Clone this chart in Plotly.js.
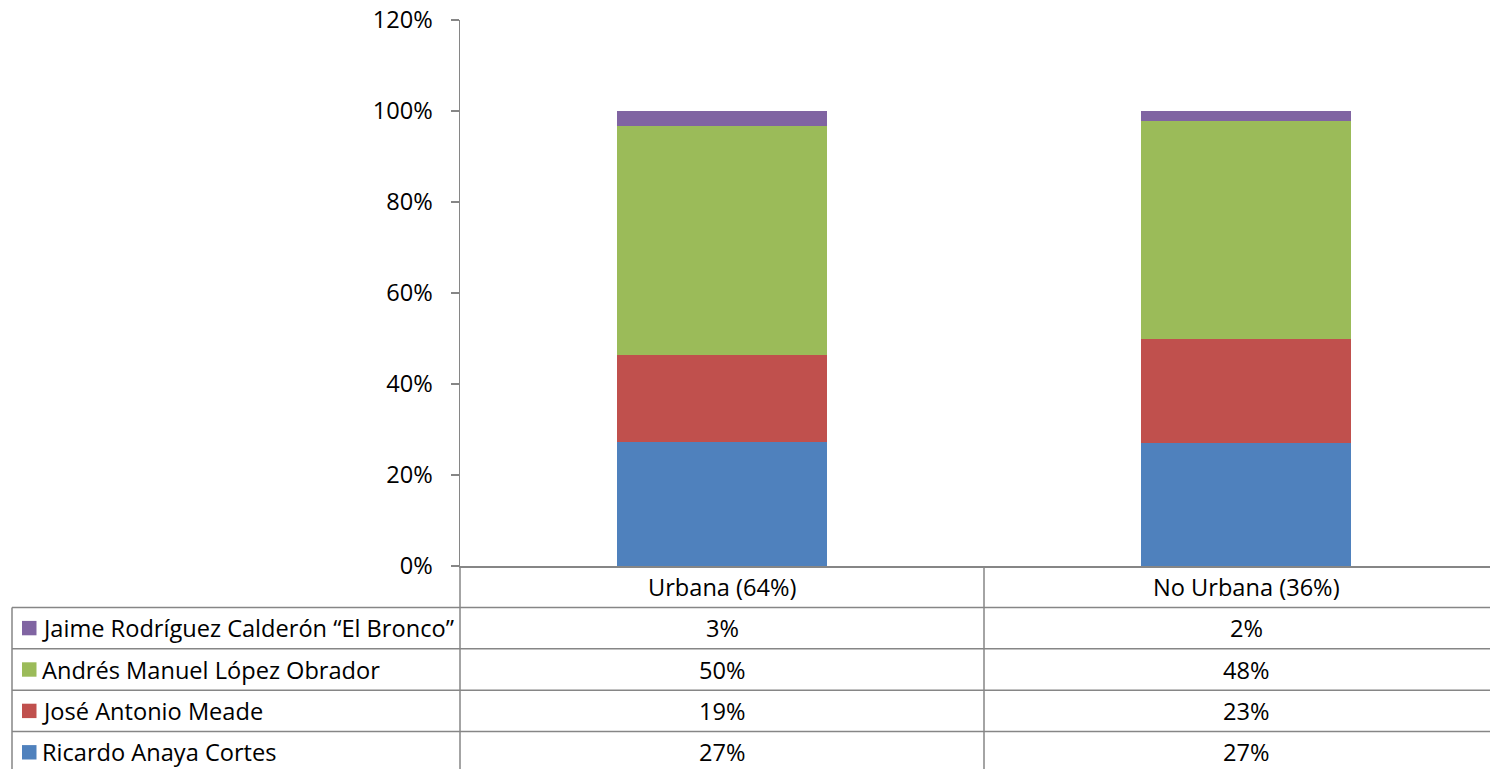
<!DOCTYPE html>
<html>
<head>
<meta charset="utf-8">
<script src="https://cdn.plot.ly/plotly-3.0.1.min.js"></script>
<style>
html,body{margin:0;padding:0;background:#fff;overflow:hidden;}
#chart{width:1490px;height:769px;}
</style>
</head>
<body>
<div id="chart"></div>
<script>
// ---- data ----
const categories = ["Urbana (64%)", "No Urbana (36%)"];
const seriesNames = ["Ricardo Anaya Cortes", "José Antonio Meade", "Andrés Manuel López Obrador", "Jaime Rodríguez Calderón “El Bronco”"];
const ricardo = [27.3, 27.0];
const meade = [19.0, 22.9];
const amlo = [50.3, 47.9];
const bronco = [3.4, 2.2];
const yTicks = [0, 20, 40, 60, 80, 100, 120];
const colors = ["#4F81BD", "#C0504D", "#9BBB59", "#8064A2"];

// ---- layout geometry ----
const W = 1490, H = 769;
const mL = 460, mR = 0, mT = 20, mB = 203;
const plotW = W - mL - mR, plotH = H - mT - mB;
const catW = 524;
const rowH = 41.4;
const gridColor = "#868686";
const FONT = "'Open Sans', sans-serif";
const fs = 23.6;

const seriesVals = [ricardo, meade, amlo, bronco];
const traces = seriesVals.map((vals, i) => ({
  type: "bar",
  name: seriesNames[i],
  x: categories,
  y: vals,
  width: 0.4,
  marker: {color: colors[i], line: {width: 0}},
  hoverinfo: "skip"
}));

function pxPaperX(px) { return (px - mL) / plotW; }

const shapes = [];
const annotations = [];
const nRows = seriesNames.length;
const tableBottom = -(rowH * (nRows + 1) + 10) / plotH;

// horizontal lines
for (let r = 1; r <= nRows + 1; r++) {
  const yp = -(rowH * r) / plotH;
  shapes.push({type: "line", xref: "paper", yref: "paper", x0: pxPaperX(12), x1: 1.05, y0: yp, y1: yp,
    line: {color: gridColor, width: 1.5}});
}
// vertical lines
shapes.push({type: "line", xref: "paper", yref: "paper", x0: pxPaperX(12), x1: pxPaperX(12), y0: -rowH / plotH, y1: tableBottom,
  line: {color: gridColor, width: 1.5}});
shapes.push({type: "line", xref: "paper", yref: "paper", x0: 0, x1: 0, y0: 0, y1: tableBottom,
  line: {color: gridColor, width: 1.5}});
for (let c = 0; c < categories.length; c++) {
  shapes.push({type: "line", xref: "x", yref: "paper", x0: c + 0.5, x1: c + 0.5, y0: 0, y1: tableBottom,
    line: {color: gridColor, width: 1.5}});
}

// header labels
categories.forEach((c, i) => {
  annotations.push({xref: "x", yref: "paper", x: i, y: -(rowH * 0.5) / plotH, text: c, showarrow: false,
    xanchor: "center", yanchor: "middle", font: {family: FONT, size: fs, color: "#000"}});
});

// rows: top to bottom = reverse of stack order
for (let r = 0; r < nRows; r++) {
  const si = nRows - 1 - r;
  const yc = -(rowH * (r + 1.5)) / plotH;
  annotations.push({xref: "paper", yref: "paper", x: pxPaperX(40), y: yc, text: seriesNames[si], showarrow: false,
    xanchor: "left", yanchor: "middle", font: {family: FONT, size: fs, color: "#000"}});
  shapes.push({type: "rect", xref: "paper", yref: "paper",
    x0: pxPaperX(22), x1: pxPaperX(36.5), y0: yc - 7.2 / plotH, y1: yc + 7.2 / plotH,
    fillcolor: colors[si], line: {width: 0}});
  categories.forEach((c, ci) => {
    annotations.push({xref: "x", yref: "paper", x: ci, y: yc, text: Math.round(seriesVals[si][ci]) + "%", showarrow: false,
      xanchor: "center", yanchor: "middle", font: {family: FONT, size: fs, color: "#000"}});
  });
}

const layout = {
  width: W, height: H,
  margin: {l: mL, r: mR, t: mT, b: mB, pad: 0},
  paper_bgcolor: "#fff", plot_bgcolor: "#fff",
  barmode: "stack",
  showlegend: false,
  font: {family: FONT, size: fs, color: "#000"},
  xaxis: {
    type: "category", range: [-0.5, -0.5 + plotW / catW],
    showticklabels: false, ticks: "", showgrid: false, zeroline: false,
    showline: true, linecolor: gridColor, linewidth: 1.5, fixedrange: true
  },
  yaxis: {
    range: [0, 120], tickvals: yTicks, ticktext: yTicks.map(v => v + "%"),
    ticks: "outside", ticklen: 8, tickcolor: gridColor, tickwidth: 1.5,
    showline: true, linecolor: gridColor, linewidth: 1.5,
    showgrid: false, zeroline: false, ticklabelstandoff: 13,
    tickfont: {family: FONT, size: fs, color: "#000"}, fixedrange: true
  },
  shapes: shapes,
  annotations: annotations
};

Plotly.newPlot("chart", traces, layout, {displayModeBar: false, staticPlot: true});
</script>
</body>
</html>
